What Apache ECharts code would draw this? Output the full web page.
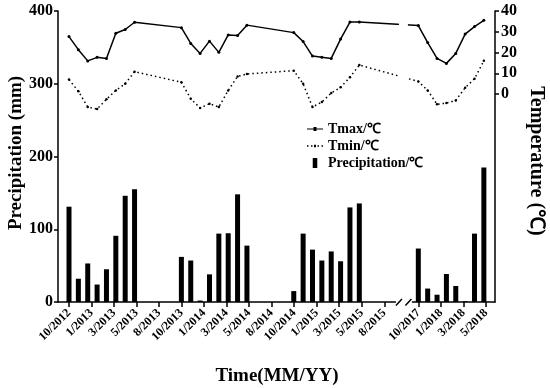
<!DOCTYPE html>
<html><head><meta charset="utf-8">
<script src="https://cdn.jsdelivr.net/npm/echarts@6/dist/echarts.min.js"></script>
<style>html,body{margin:0;padding:0;background:#fff}#c{width:550px;height:388px}</style>
</head><body><div id="c"></div>
<script>
// ---------- data ----------
const months = ['10/2012','11/2012','12/2012','1/2013','2/2013','3/2013','4/2013','5/2013',
  '10/2013','11/2013','12/2013','1/2014','2/2014','3/2014','4/2014','5/2014',
  '10/2014','11/2014','12/2014','1/2015','2/2015','3/2015','4/2015','5/2015',
  '10/2017','11/2017','12/2017','1/2018','2/2018','3/2018','4/2018','5/2018'];
const precipitation = [131,32,53,24,45,91,146,155,
  62,57,2,38,94,94.5,148,77.5,
  15,94,72,57,69.5,56,130,135.5,
  73.5,18.5,10,38.5,22,1,94,185];
const tmax = [27.7,21.4,16.0,17.7,17.2,29.3,31.1,34.6,
  32.0,24.4,19.6,25.5,20.1,28.5,28.2,33.2,
  29.6,25.3,18.3,17.7,17.2,26.5,34.7,34.7,
  33.0,24.8,17.2,14.8,19.6,28.9,32.5,35.5];
const tmin = [7.0,1.4,-6.2,-7.2,-2.5,1.8,5.0,10.8,
  5.7,-2.2,-6.7,-4.6,-6.2,1.8,8.5,9.7,
  11.3,5.0,-6.2,-3.8,0.5,3.3,8.1,14.0,
  6.1,1.8,-4.9,-4.3,-3.0,3.1,7.4,16.1];
const tickLabels = ['10/2012','1/2013','3/2013','5/2013','8/2013','10/2013','1/2014','3/2014','5/2014',
  '8/2014','10/2014','1/2015','3/2015','5/2015','8/2015','10/2017','1/2018','3/2018','5/2018'];
const precipTicks = [0,100,200,300,400];
const tempTicks = [0,10,20,30,40];

// ---------- layout ----------
const FONT = '"Liberation Serif","Times New Roman",serif';
const BREAK_AFTER_MONTH = '5/2015';
const BREAK_AFTER_TICK = '8/2015';
const BREAK_MONTH_SHIFT = 22.7;   // compressed months hidden by the axis break
const BREAK_TICK_GAP = 0.52;      // extra tick spacing across the break
const BREAK_AT_TICK = 14.85;

const bm = months.indexOf(BREAK_AFTER_MONTH);
function monthPos(label, i) {
  const [m, y] = label.split('/').map(Number);
  let idx = (y - 2012) * 12 + m - 10;
  if (i > bm) idx -= BREAK_MONTH_SHIFT;
  return idx;
}
const bt = tickLabels.indexOf(BREAK_AFTER_TICK);
const tickPos = tickLabels.map((_, i) => i > bt ? i + BREAK_TICK_GAP : i);

const xs = months.map(monthPos);
const barData = xs.map((x, i) => [x, precipitation[i]]);
const tmaxData = xs.map((x, i) => [x, tmax[i]]);
const tminData = xs.map((x, i) => [x, tmin[i]]);

const chart = echarts.init(document.getElementById('c'), null, {renderer: 'canvas'});
const black = '#000';
const labelStyle = {color: black, fontFamily: FONT, fontWeight: 'bold'};

chart.setOption({
  animation: false,
  backgroundColor: '#fff',
  grid: {left: 58, right: 55, top: 11, bottom: 86, containLabel: false},
  legend: {
    orient: 'vertical', left: 302, top: 117, itemWidth: 16, itemHeight: 10, itemGap: 3,
    textStyle: Object.assign({fontSize: 14}, labelStyle),
    data: [
      {name: 'Tmax/℃', icon: 'path://M0,1.4H16V2.6H0Z M6.5,0H9.5V4H6.5Z'},
      {name: 'Tmin/℃', icon: 'path://M0,1H1.5V2.5H0Z M4,1H5.5V2.5H4Z M7,0.5H9V3H7Z M10.5,1H12V2.5H10.5Z M14.5,1H16V2.5H14.5Z'},
      {name: 'Precipitation/℃', icon: 'path://M0,0H5V11H0Z'}
    ]
  },
  xAxis: [
    {type: 'value', min: -11 / 9.365, max: 426 / 9.365, show: false, splitLine: {show: false}, axisLine: {onZero: false}},
    {type: 'value', min: -11 / 22.52, max: 426 / 22.52, position: 'bottom',
      splitLine: {show: false},
      axisLine: {show: true, onZero: false, lineStyle: {color: black, width: 1.5}},
      axisTick: {show: true, length: 5, inside: false, customValues: tickPos, lineStyle: {color: black, width: 1.5}},
      axisLabel: Object.assign({fontSize: 12, rotate: 45, margin: 9, customValues: tickPos,
        formatter: v => { let k = 0, d = 1e9; tickPos.forEach((p, i) => { if (Math.abs(p - v) < d) { d = Math.abs(p - v); k = i; } }); return tickLabels[k]; }
      }, labelStyle)
    }
  ],
  yAxis: [
    {type: 'value', min: 0, max: 400, interval: 100, position: 'left', splitLine: {show: false},
      axisLine: {show: true, onZero: false, lineStyle: {color: black, width: 1.5}},
      axisTick: {show: true, length: 4, lineStyle: {color: black, width: 1.5}},
      axisLabel: Object.assign({fontSize: 16, margin: 5, customValues: precipTicks}, labelStyle)},
    {type: 'value', min: -100, max: 40, interval: 10, position: 'right', splitLine: {show: false},
      axisLine: {show: true, onZero: false, lineStyle: {color: black, width: 1.5}},
      axisTick: {show: true, length: 4, customValues: tempTicks, lineStyle: {color: black, width: 1.5}},
      axisLabel: Object.assign({fontSize: 16, margin: 6, customValues: tempTicks}, labelStyle)}
  ],
  series: [
    {name: 'Precipitation/℃', type: 'bar', xAxisIndex: 0, yAxisIndex: 0, data: barData, barWidth: 5,
      itemStyle: {color: black}},
    {name: 'Tmax/℃', type: 'line', xAxisIndex: 0, yAxisIndex: 1, data: tmaxData,
      symbol: 'circle', symbolSize: 3, itemStyle: {color: black}, lineStyle: {color: black, width: 1.5}, z: 3},
    {name: 'Tmin/℃', type: 'line', xAxisIndex: 0, yAxisIndex: 1, data: tminData,
      symbol: 'circle', symbolSize: 2.5, itemStyle: {color: black}, lineStyle: {color: black, width: 1.5, type: [1.5, 3]}, z: 3}
  ]
});

const bc = chart.convertToPixel({xAxisIndex: 1}, BREAK_AT_TICK);
const y0 = chart.convertToPixel({yAxisIndex: 0}, 0);
const yTop = chart.convertToPixel({yAxisIndex: 0}, 400);
const yGapEnd = chart.convertToPixel({yAxisIndex: 1}, -10);
const titleFont = 'bold 19px ' + FONT;
chart.setOption({
  graphic: [
    {type: 'rect', z: 100, shape: {x: bc - 4.5, y: yTop, width: 9, height: yGapEnd - yTop}, style: {fill: '#fff'}},
    {type: 'rect', z: 100, shape: {x: bc - 7.5, y: y0 - 3, width: 16, height: 6}, style: {fill: '#fff'}},
    {type: 'line', z: 101, shape: {x1: bc - 7.5, y1: y0 + 3.5, x2: bc - 1.5, y2: y0 - 3}, style: {stroke: black, lineWidth: 1.5}},
    {type: 'line', z: 101, shape: {x1: bc + 2, y1: y0 + 3.5, x2: bc + 8, y2: y0 - 3}, style: {stroke: black, lineWidth: 1.5}},
    {type: 'text', z: 101, x: 16, y: 153, rotation: Math.PI / 2,
      style: {text: 'Precipitation (mm)', font: titleFont, fill: black, textAlign: 'center', textVerticalAlign: 'middle'}},
    {type: 'text', z: 101, x: 536, y: 161, rotation: -Math.PI / 2,
      style: {text: 'Temperature (℃)', font: 'bold 20px ' + FONT, fill: black, textAlign: 'center', textVerticalAlign: 'middle'}},
    {type: 'text', z: 101, x: 277, y: 376,
      style: {text: 'Time(MM/YY)', font: titleFont, fill: black, textAlign: 'center', textVerticalAlign: 'middle'}}
  ]
});
</script></body></html>
